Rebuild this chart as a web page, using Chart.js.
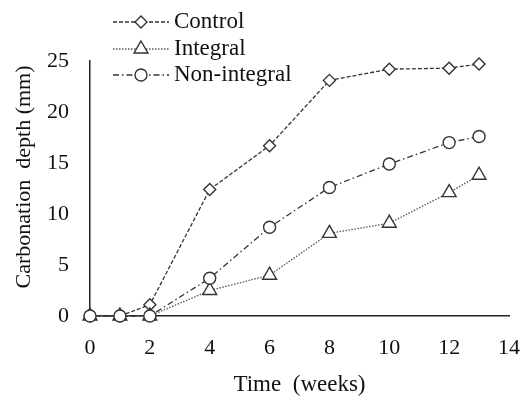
<!DOCTYPE html>
<html>
<head>
<meta charset="utf-8">
<script src="https://cdn.jsdelivr.net/npm/chart.js@4/dist/chart.umd.min.js"></script>
<style>
  html, body { margin: 0; padding: 0; background: #fff; }
  #wrap { width: 530px; height: 399px; }
</style>
</head>
<body>
<div id="wrap"><canvas id="myChart" width="530" height="399"></canvas></div>
<script>
// values
var weeks = [0, 1, 2, 4, 6, 8, 10, 12, 13];
var control = [0, 0, 1.1, 12.4, 16.7, 23.1, 24.2, 24.3, 24.7];
var integral = [0, 0, 0, 2.5, 4.0, 8.1, 9.1, 12.1, 13.8];
var nonIntegral = [0, 0, 0, 3.7, 8.7, 12.6, 14.9, 17.0, 17.6];
var xTicks = [0, 2, 4, 6, 8, 10, 12, 14];
var yTicks = [0, 5, 10, 15, 20, 25];
var seriesNames = ["Control", "Integral", "Non-integral"];
var yTitle = "Carbonation  depth (mm)";
var xTitle = "Time  (weeks)";

var serif = "'Liberation Serif', 'Times New Roman', serif";

function toPoints(values) {
    return weeks.map(function (w, i) { return { x: w, y: values[i] }; });
}

var styles = [
    { pointStyle: 'rectRot', radius: 6, dash: [4, 2], color: '#333' },
    { pointStyle: 'triangle', radius: 8, dash: [1.5, 1.5], color: '#555' },
    { pointStyle: 'circle', radius: 6, dash: [6, 3, 1.5, 3], color: '#333' }
];

function makeDataset(i, values, order) {
    var s = styles[i];
    return {
        label: seriesNames[i],
        data: toPoints(values),
        borderColor: s.color,
        borderWidth: 1.3,
        borderDash: s.dash,
        pointStyle: s.pointStyle,
        pointRadius: s.radius,
        pointHoverRadius: s.radius,
        pointBackgroundColor: '#fff',
        pointBorderColor: '#333',
        pointBorderWidth: 1.4,
        fill: false,
        clip: false,
        tension: 0,
        order: order
    };
}

// legend drawn by hand (line + marker + text), like the original figure
var lineLegend = {
    id: 'lineLegend',
    afterDraw: function (chart) {
        var ctx = chart.ctx;
        var rows = [22, 49, 75];
        ctx.save();
        for (var i = 0; i < seriesNames.length; i++) {
            var s = styles[i];
            var y = rows[i];
            ctx.strokeStyle = s.color;
            ctx.lineWidth = 1.3;
            ctx.setLineDash(s.dash);
            ctx.beginPath();
            ctx.moveTo(113, y);
            ctx.lineTo(169, y);
            ctx.stroke();
            ctx.setLineDash([]);
            ctx.fillStyle = '#fff';
            ctx.strokeStyle = '#333';
            ctx.lineWidth = 1.4;
            Chart.helpers.drawPoint(ctx, { pointStyle: s.pointStyle, radius: s.radius, rotation: 0, borderWidth: 1.4 }, 141, y);
            ctx.fillStyle = '#111';
            ctx.font = "23px " + serif;
            ctx.textBaseline = 'middle';
            ctx.textAlign = 'left';
            ctx.fillText(seriesNames[i], 174, y);
        }
        // y axis title, sitting a little above the middle as in the figure
        ctx.translate(24, 177);
        ctx.rotate(-Math.PI / 2);
        ctx.font = "22px " + serif;
        ctx.textAlign = 'center';
        ctx.fillText(yTitle, 0, 0);
        ctx.restore();
    }
};

var ctx = document.getElementById("myChart");
var chart = new Chart(ctx, {
    type: 'line',
    data: {
        datasets: [
            makeDataset(0, control, 2),
            makeDataset(1, integral, 1),
            makeDataset(2, nonIntegral, 0)
        ]
    },
    options: {
        responsive: false,
        animation: false,
        devicePixelRatio: 1,
        layout: { autoPadding: false, padding: { top: 61, right: 21, left: 0, bottom: 0 } },
        plugins: {
            legend: { display: false },
            tooltip: { enabled: false }
        },
        scales: {
            x: {
                type: 'linear',
                min: 0,
                max: 14,
                afterBuildTicks: function (scale) {
                    scale.ticks = xTicks.map(function (v) { return { value: v }; });
                },
                afterFit: function (scale) {
                    scale.height = 83;
                    scale.paddingLeft = 0;
                    scale.paddingRight = 11;
                },
                grid: { display: false, drawTicks: false },
                border: { display: true, color: '#222', width: 1.5 },
                ticks: {
                    color: '#111',
                    padding: 19,
                    maxRotation: 0,
                    font: { family: serif, size: 22 }
                },
                title: {
                    display: true,
                    text: xTitle,
                    color: '#111',
                    padding: { top: 0, bottom: 0 },
                    font: { family: serif, size: 23 }
                }
            },
            y: {
                min: 0,
                max: 25,
                afterBuildTicks: function (scale) {
                    scale.ticks = yTicks.map(function (v) { return { value: v }; });
                },
                afterFit: function (scale) { scale.width = 90; },
                grid: { display: false, drawTicks: false },
                border: { display: true, color: '#222', width: 1.5 },
                ticks: {
                    color: '#111',
                    padding: 21,
                    font: { family: serif, size: 22 }
                }
            }
        }
    },
    plugins: [lineLegend, {
        id: 'whiteBg',
        beforeDraw: function (c) {
            c.ctx.save();
            c.ctx.fillStyle = '#fff';
            c.ctx.fillRect(0, 0, c.width, c.height);
            c.ctx.restore();
        }
    }]
});
</script>
</body>
</html>
